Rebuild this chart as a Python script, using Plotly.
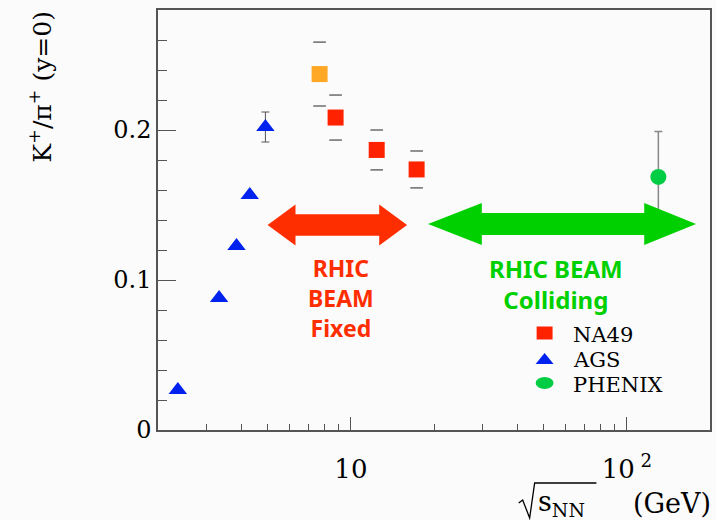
import math
import plotly.graph_objects as go

# ---------------- data ----------------
ags_x = [2.36, 3.33, 3.85, 4.30, 4.90]
ags_y = [0.0267, 0.088, 0.1227, 0.1567, 0.202]
ags_err = [0.0, 0.0, 0.0, 0.0, 0.010]

na49_x = [8.8, 12.4, 17.3]
na49_y = [0.2083, 0.1867, 0.1737]
na49_err = [0.015, 0.0133, 0.0123]

na49_low_x = [7.7]
na49_low_y = [0.2373]
na49_low_err = [0.0213]

phenix_x = [130.0]
phenix_y = [0.1687]
phenix_err = [0.0303]

legend_names = ["NA49", "AGS", "PHENIX"]

x_tickvals = [10, 100]
x_ticktext = ["10", "10<sup> 2</sup>"]
x_minor = [3, 4, 5, 6, 7, 8, 9, 20, 30, 40, 50, 60, 70, 80, 90]

# ---------------- layout geometry (pixels) ----------------
W, H = 716, 520
L, R, T, B = 158, 712, 10, 430


def px(x):
    return (x - L) / (R - L)


def py(y):
    return (B - y) / (B - T)


def poly(pts, close=True):
    d = "M " + " L ".join(f"{px(a):.5f},{py(b):.5f}" for a, b in pts)
    return d + (" Z" if close else "")


def double_arrow(x0, x1, yc, head_len_l, head_len_r, head_half, shaft_half):
    return poly([
        (x0, yc),
        (x0 + head_len_l, yc - head_half),
        (x0 + head_len_l, yc - shaft_half),
        (x1 - head_len_r, yc - shaft_half),
        (x1 - head_len_r, yc - head_half),
        (x1, yc),
        (x1 - head_len_r, yc + head_half),
        (x1 - head_len_r, yc + shaft_half),
        (x0 + head_len_l, yc + shaft_half),
        (x0 + head_len_l, yc + head_half),
    ])


RED = "#ff2e00"
GREEN = "#00d000"
NA49_COL = "#ff2200"
AGS_COL = "#0022ee"
PHENIX_COL = "#00cc44"
SERIF = "DejaVu Serif"
SANS = "Noto Sans"

fig = go.Figure()

# error bar caps for NA49 points (only caps are visible in the reference)
cap_x = na49_low_x * 2 + na49_x * 2
cap_y = ([v + e for v, e in zip(na49_low_y, na49_low_err)]
         + [v - e for v, e in zip(na49_low_y, na49_low_err)]
         + [v + e for v, e in zip(na49_y, na49_err)]
         + [v - e for v, e in zip(na49_y, na49_err)])
fig.add_trace(go.Scatter(
    x=cap_x, y=cap_y, mode="markers", showlegend=False, hoverinfo="skip",
    marker=dict(symbol="line-ew", size=9, line=dict(width=1.3, color="#555555")),
))

fig.add_trace(go.Scatter(
    x=na49_low_x, y=na49_low_y, mode="markers", showlegend=False,
    marker=dict(symbol="square", size=16, color="#ffa826"),
))
fig.add_trace(go.Scatter(
    x=na49_x, y=na49_y, mode="markers", name=legend_names[0], showlegend=False,
    marker=dict(symbol="square", size=16, color=NA49_COL),
))
fig.add_trace(go.Scatter(
    x=ags_x, y=ags_y, mode="markers", name=legend_names[1], showlegend=False,
    error_y=dict(type="data", array=ags_err, color="#555555", thickness=1, width=4),
    marker=dict(symbol="triangle-up", size=16, color=AGS_COL),
))
fig.add_trace(go.Scatter(
    x=phenix_x, y=phenix_y, mode="markers", name=legend_names[2], showlegend=False,
    error_y=dict(type="data", array=phenix_err, color="#888888", thickness=1.5, width=4),
    marker=dict(symbol="circle", size=16, color=PHENIX_COL),
))

LEG_Y = [333, 358, 383]

shapes = [
    dict(type="path", xref="paper", yref="paper", layer="above",
         path=double_arrow(268, 408, 225, 28, 28, 20.5, 10.7),
         fillcolor=RED, line=dict(width=0)),
    dict(type="path", xref="paper", yref="paper", layer="above",
         path=double_arrow(429, 698, 224, 54, 52, 21, 11),
         fillcolor=GREEN, line=dict(width=0)),
    # radical sign of the x-axis title
    dict(type="path", xref="paper", yref="paper",
         path=poly([(520, 503), (524, 500), (531, 518), (536, 483), (598, 483)], close=False),
         line=dict(color="black", width=1.3)),
    # legend swatches
    dict(type="rect", xref="paper", yref="paper",
         x0=px(538), x1=px(554), y0=py(LEG_Y[0] + 6.5), y1=py(LEG_Y[0] - 6.5),
         fillcolor=NA49_COL, line=dict(width=0)),
    dict(type="path", xref="paper", yref="paper",
         path=poly([(537, LEG_Y[1] + 6), (555, LEG_Y[1] + 6), (546, LEG_Y[1] - 5)]),
         fillcolor=AGS_COL, line=dict(width=0)),
    dict(type="circle", xref="paper", yref="paper",
         x0=px(537), x1=px(555), y0=py(LEG_Y[2] + 6), y1=py(LEG_Y[2] - 6),
         fillcolor=PHENIX_COL, line=dict(width=0)),
]

ann = []


def add_text(text, x, y, size, color, family, xanchor="center", angle=0, bold=False):
    ann.append(dict(
        text=f"<b>{text}</b>" if bold else text, x=px(x), y=py(y),
        xref="paper", yref="paper", xanchor=xanchor, yanchor="middle",
        showarrow=False, textangle=angle,
        font=dict(size=size, color=color, family=family),
    ))


add_text("RHIC<br>BEAM<br>Fixed", 342, 298, 23, RED, SANS, bold=True)
add_text("RHIC BEAM<br>Colliding", 557, 284, 24, GREEN, SANS, bold=True)

add_text("K<sup>+</sup>/π<sup>+</sup> (y=0)", 40, 87, 25, "black", SERIF, angle=-90)
add_text("s<sub>NN</sub>", 537, 503, 27, "black", SERIF, xanchor="left")
add_text("(GeV)", 715, 503, 27, "black", SERIF, xanchor="right")

for name, yc in zip(legend_names, LEG_Y):
    add_text(name, 572, yc + 2, 21, "black", SERIF, xanchor="left")

fig.update_layout(
    width=W, height=H,
    margin=dict(l=L, r=W - R, t=T, b=H - B, pad=0),
    paper_bgcolor="#fbfbfb", plot_bgcolor="#fbfbfb",
    shapes=shapes, annotations=ann, showlegend=False,
)

fig.update_xaxes(
    type="log", range=[math.log10(2), math.log10(200)],
    showgrid=False, zeroline=False,
    showline=True, linecolor="#555555", linewidth=1.5, mirror=True,
    ticks="inside", ticklen=13, tickwidth=1.2, tickcolor="#555555",
    tickmode="array", tickvals=x_tickvals, ticktext=x_ticktext,
    ticklabelstandoff=15,
    tickfont=dict(family=SERIF, size=26, color="black"),
    minor=dict(tickmode="array", tickvals=x_minor, ticks="inside", ticklen=6,
               tickwidth=1.2, tickcolor="#555555", showgrid=False),
)
fig.update_yaxes(
    range=[0, 0.28], showgrid=False, zeroline=False,
    showline=True, linecolor="#555555", linewidth=1.5, mirror=True,
    ticks="inside", ticklen=18, tickwidth=1.2, tickcolor="#555555",
    tickvals=[0, 0.1, 0.2], ticktext=["0", "0.1", "0.2"],
    tickfont=dict(family=SERIF, size=24, color="black"),
    minor=dict(dtick=0.02, ticks="inside", ticklen=9, tickwidth=1.2,
               tickcolor="#555555", showgrid=False),
)

fig.write_html("out.html", config={"displayModeBar": False},
               post_script="document.body.style.margin='0px';")
